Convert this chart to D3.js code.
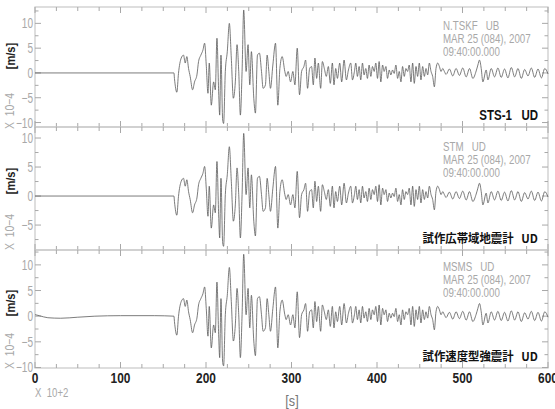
<!DOCTYPE html>
<html><head><meta charset="utf-8">
<script src="https://cdn.jsdelivr.net/npm/d3@7"></script>
<style>
body{margin:0;background:#fff;}
text{font-family:"Liberation Sans",Arial,sans-serif;}
.cjk{font-family:"Noto Sans CJK JP","Liberation Sans",sans-serif;}
</style></head>
<body>
<svg id="c" width="555" height="409"></svg>
<script>
// ---- data ----
const stations = ["N.TSKF   UB", "STM   UD", "MSMS   UD"];
const instruments = ["STS-1   UD", "試作広帯域地震計   UD", "試作速度型強震計   UD"];
const dateLine = "MAR 25 (084), 2007";
const timeLine = "09:40:00.000";
const gains = [1.0, 0.85, 0.95];          // relative amplitude of each record
const xTicks = [0, 100, 200, 300, 400, 500, 600];
const yTicks = [-10, -5, 0, 5, 10];
// time [s x 10^2] and velocity [m/s x 10^-4]
const time = [0,162.5,163.1,165.9,167.8,171.0,173.7,175.7,177.6,179.6,181.5,184.3,186.6,189.4,191.3,194.0,196.4,198.4,200.3,202.3,203.8,206.2,208.9,210.9,212.8,214.8,216.0,217.5,219.5,220.6,222.6,224.9,227.3,229.6,232.0,234.3,236.3,238.3,240.2,242.2,244.1,246.9,249.2,251.2,253.1,255.9,257.8,260.2,262.5,264.9,266.8,269.5,271.5,273.5,275.4,278.2,281.3,284.0,286.4,289.1,292.2,293.8,296.1,298.9,301.6,304.0,306.7,309.4,311.8,314.5,316.5,318.8,321.2,323.5,325.5,327.4,329.4,331.4,334.1,336.1,338.4,340.7,343.1,345.4,347.8,349.7,351.7,353.7,356.4,358.7,361.5,364.2,366.6,369.3,371.3,373.6,
375.2,377.1,379.1,381.0,383.0,384.9,386.9,388.8,390.8,392.8,394.7,396.7,398.6,400.6,402.5,404.5,406.5,408.4,410.4,412.3,414.3,416.2,418.2,420.1,422.1,424.1,426.0,428.0,429.9,431.9,433.8,435.8,437.7,439.7,441.7,443.6,445.6,447.5,449.5,451.4,453.4,455.4,457.3,459.3,461.2,463.2,465.1,467.1,469.0,471.0,473.0,474.9,476.9,478.8,
480.8,484.7,488.6,492.5,496.4,500.3,504.3,508.2,512.1,516.0,518.0,519.9,521.9,523.8,527.7,529.7,533.6,537.5,541.4,545.3,549.2,553.1,557.1,561.0,564.9,568.8,572.7,576.6,580.5,584.4,588.3,592.3,596.2,600];
const vel = [0,0,-1.1,-3.9,-0.1,3.0,3.6,2.0,3.3,0.9,-0.7,-3.4,-1.8,-0.4,2.3,3.6,4.6,6.0,1.6,-4.1,2.0,-6.5,-1.8,-3.4,7.0,-3.8,-8.5,3.6,-9.5,-10.2,0.3,4.3,10.0,3.0,-5.1,-1.8,5.7,0.3,-8.5,0.3,12.7,0.3,5.7,-2.4,4.3,-5.1,-8.1,3.6,4.0,0.3,-3.1,-2.4,3.6,0.3,-3.1,1.6,6.0,-6.5,0.9,3.3,0.3,-0.7,0.3,-1.8,0.3,-2.4,5.0,-4.4,0.3,1.3,2.6,-3.1,0.9,1.3,-2.4,3.0,-1.1,2.0,-3.1,2.3,0.9,-0.7,1.3,-2.1,2.0,-2.4,0.9,-1.1,2.0,-1.8,2.6,-1.4,0.6,2.0,-1.4,0.3,
2.0,-0.7,1.3,-1.4,2.0,-0.4,0.9,-1.1,1.6,-0.7,1.3,0.3,2.0,-1.1,2.3,-1.8,1.6,0.3,1.3,-1.1,0.6,-0.4,0.6,-0.1,1.6,-1.1,0.3,-1.8,1.3,-0.7,0.9,0.3,1.6,-1.8,2.0,-2.1,1.3,-0.7,2.0,-1.4,1.3,-0.7,0.9,-0.4,2.0,0.3,-0.7,-2.8,0.9,2.0,1.3,0.3,0.9,0.3,
-0.3,0.8,-0.6,0.9,-0.5,1.0,-0.8,0.9,-1.1,0.4,1.6,2.6,0.9,-1.8,0.6,-1.4,0.9,-0.8,1.0,-0.9,0.8,-1.0,1.1,-0.8,0.9,-1.1,0.7,-0.6,1.0,-0.9,0.8,-1.0,0.9,-0.2];
// pre-event baseline drift of the MSMS record
const driftTime = [0, 5, 15, 30, 50, 70, 100, 140, 162.5];
const driftVel = [0.3, 0.1, -0.3, -0.4, -0.2, 0.0, 0.1, 0.1, 0.0];

// ---- drawing ----
const svg = d3.select("#c");
const x = d3.scaleLinear().domain([0, 600]).range([35, 548]);
const panels = [
  {top: 7, bottom: 127, dom: [-10.9, 13.3], ann: [30, 43, 56], inst: 120, ml: 56, xl: 111},
  {top: 127, bottom: 250, dom: [-9.3, 11.9], ann: [151, 164, 177], inst: 243, ml: 181, xl: 232},
  {top: 250, bottom: 368, dom: [-10.1, 12.9], ann: [271, 284, 297], inst: 361, ml: 303, xl: 351}
];
const grey = "#a8a8a8";

// text helper: horizontally condensed text
function ctext(parent, tx, ty, sx, str, opt) {
  const t = parent.append("text").attr("transform", `translate(${tx},${ty}) scale(${sx},1)`)
    .attr("text-anchor", opt.anchor || "start").attr("font-size", opt.size || 12)
    .attr("font-weight", opt.weight || "normal").attr("fill", opt.fill || "#222")
    .style("white-space", "pre").text(str);
  if (opt.cls) t.attr("class", opt.cls);
  return t;
}

panels.forEach((p, i) => {
  const y = d3.scaleLinear().domain(p.dom).range([p.bottom, p.top]);
  const g = svg.append("g");
  // frame
  g.append("rect").attr("x", x(0)).attr("y", p.top).attr("width", x(600) - x(0))
    .attr("height", p.bottom - p.top).attr("fill", "none").attr("stroke", "#c8c8c8").attr("stroke-width", 1.2);
  // x ticks (top and bottom, inward)
  d3.range(0, 601, 25).forEach(v => {
    const L = v % 100 === 0 ? 6 : 4;
    g.append("line").attr("x1", x(v)).attr("x2", x(v)).attr("y1", p.top).attr("y2", p.top + L).attr("stroke", grey);
    g.append("line").attr("x1", x(v)).attr("x2", x(v)).attr("y1", p.bottom).attr("y2", p.bottom - L).attr("stroke", grey);
  });
  // y ticks (left and right, inward)
  d3.range(-12.5, 15, 2.5).filter(v => v > p.dom[0] && v < p.dom[1]).forEach(v => {
    const L = v % 5 === 0 ? 6 : 3.5;
    g.append("line").attr("x1", x(0)).attr("x2", x(0) + L).attr("y1", y(v)).attr("y2", y(v)).attr("stroke", grey);
    g.append("line").attr("x1", x(600)).attr("x2", x(600) - L).attr("y1", y(v)).attr("y2", y(v)).attr("stroke", grey);
  });
  yTicks.filter(v => v > p.dom[0] && v < p.dom[1]).forEach(v => {
    ctext(g, 33, y(v) + 5, 0.72, v < 0 ? "\u2212" + Math.abs(v) : String(v), {anchor: "end", size: 14, fill: grey});
  });
  // axis unit labels
  g.append("text").attr("transform", `translate(15,${p.ml}) rotate(-90) scale(0.85,1)`).attr("text-anchor", "middle")
    .attr("font-size", 13).attr("font-weight", "bold").attr("fill", "#222").text("[m/s]");
  g.append("text").attr("transform", `translate(14,${p.xl}) rotate(-90) scale(0.8,1)`).attr("text-anchor", "middle")
    .attr("font-size", 13).attr("fill", grey).style("white-space", "pre").text("X  10\u22124");
  // trace
  let pts = time.map((t, k) => [t, vel[k] * gains[i]]);
  if (i === 2) pts = driftTime.map((t, k) => [t, driftVel[k]]).concat(pts.slice(2));
  const line = d3.line().x(d => x(d[0])).y(d => y(d[1])).curve(d3.curveMonotoneX);
  g.append("path").attr("d", line(pts)).attr("fill", "none").attr("stroke", "#5a5a5a").attr("stroke-width", 0.8);
  // annotations
  [stations[i], dateLine, timeLine].forEach((s, k) => {
    ctext(g, 443, p.ann[k], 0.78, s, {size: 12.5, fill: grey});
  });
  ctext(g, 538, p.inst, i ? 0.95 : 0.82, instruments[i],
    {anchor: "end", size: i ? 12 : 14, weight: "bold", fill: "#111", cls: i ? "cjk" : null});
});

// bottom axis labels
xTicks.forEach(v => {
  ctext(svg, x(v), 383, 0.85, String(v), {anchor: "middle", size: 14, weight: "bold", fill: "#222"});
});
ctext(svg, 35, 397, 0.8, "X  10+2", {size: 12, fill: grey});
ctext(svg, 292, 406, 0.9, "[s]", {anchor: "middle", size: 14, fill: "#777"});
</script>
</body></html>
